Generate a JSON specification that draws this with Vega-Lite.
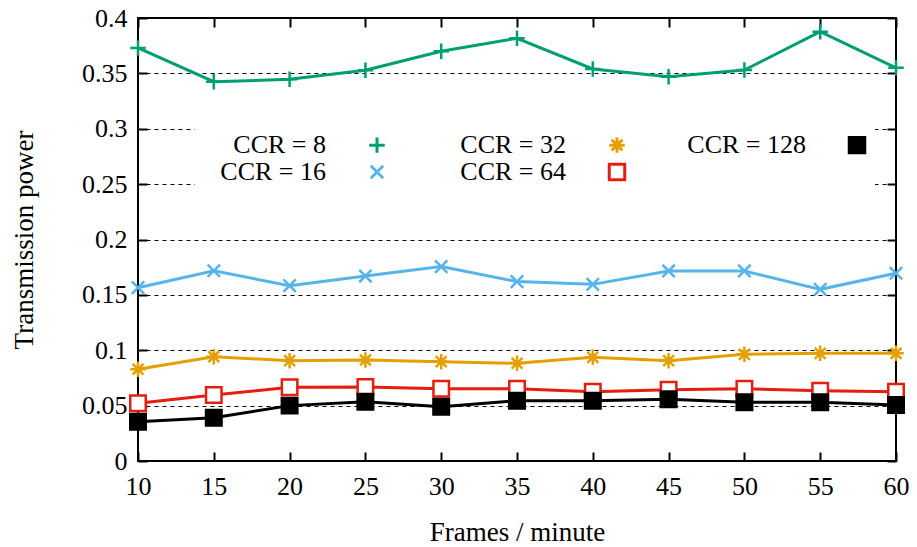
{
  "$schema": "https://vega.github.io/schema/vega-lite/v6.json",
  "autosize": "none",
  "width": 758,
  "height": 443,
  "padding": {"left": 138, "top": 18, "right": 21, "bottom": 86},
  "config": {
    "view": {"stroke": "black", "strokeWidth": 2},
    "font": "Liberation Serif",
    "axis": {
      "labelFont": "Liberation Serif", "labelFontSize": 26, "labelColor": "black",
      "titleFont": "Liberation Serif", "titleFontSize": 27, "titleFontWeight": "normal", "titleColor": "black",
      "domain": false, "tickColor": "black", "tickWidth": 2
    },
    "legend": {"labelFont": "Liberation Serif", "labelFontSize": 26, "labelColor": "black"}
  },
  "data": {"values": [
    {"x":10,"ccr":"CCR = 8","p":0.373},{"x":15,"ccr":"CCR = 8","p":0.3425},{"x":20,"ccr":"CCR = 8","p":0.3446},{"x":25,"ccr":"CCR = 8","p":0.3528},{"x":30,"ccr":"CCR = 8","p":0.370},{"x":35,"ccr":"CCR = 8","p":0.3817},{"x":40,"ccr":"CCR = 8","p":0.354},{"x":45,"ccr":"CCR = 8","p":0.347},{"x":50,"ccr":"CCR = 8","p":0.353},{"x":55,"ccr":"CCR = 8","p":0.3876},{"x":60,"ccr":"CCR = 8","p":0.355},
    {"x":10,"ccr":"CCR = 16","p":0.1565},{"x":15,"ccr":"CCR = 16","p":0.1718},{"x":20,"ccr":"CCR = 16","p":0.1583},{"x":25,"ccr":"CCR = 16","p":0.167},{"x":30,"ccr":"CCR = 16","p":0.1755},{"x":35,"ccr":"CCR = 16","p":0.162},{"x":40,"ccr":"CCR = 16","p":0.1595},{"x":45,"ccr":"CCR = 16","p":0.1716},{"x":50,"ccr":"CCR = 16","p":0.1716},{"x":55,"ccr":"CCR = 16","p":0.155},{"x":60,"ccr":"CCR = 16","p":0.1695},
    {"x":10,"ccr":"CCR = 32","p":0.0828},{"x":15,"ccr":"CCR = 32","p":0.0942},{"x":20,"ccr":"CCR = 32","p":0.0906},{"x":25,"ccr":"CCR = 32","p":0.0912},{"x":30,"ccr":"CCR = 32","p":0.0897},{"x":35,"ccr":"CCR = 32","p":0.0882},{"x":40,"ccr":"CCR = 32","p":0.0936},{"x":45,"ccr":"CCR = 32","p":0.0906},{"x":50,"ccr":"CCR = 32","p":0.0963},{"x":55,"ccr":"CCR = 32","p":0.0972},{"x":60,"ccr":"CCR = 32","p":0.0972},
    {"x":10,"ccr":"CCR = 64","p":0.0521},{"x":15,"ccr":"CCR = 64","p":0.0596},{"x":20,"ccr":"CCR = 64","p":0.0665},{"x":25,"ccr":"CCR = 64","p":0.0668},{"x":30,"ccr":"CCR = 64","p":0.0653},{"x":35,"ccr":"CCR = 64","p":0.0653},{"x":40,"ccr":"CCR = 64","p":0.0626},{"x":45,"ccr":"CCR = 64","p":0.0644},{"x":50,"ccr":"CCR = 64","p":0.0653},{"x":55,"ccr":"CCR = 64","p":0.0635},{"x":60,"ccr":"CCR = 64","p":0.0626},
    {"x":10,"ccr":"CCR = 128","p":0.0355},{"x":15,"ccr":"CCR = 128","p":0.0391},{"x":20,"ccr":"CCR = 128","p":0.050},{"x":25,"ccr":"CCR = 128","p":0.0536},{"x":30,"ccr":"CCR = 128","p":0.049},{"x":35,"ccr":"CCR = 128","p":0.0545},{"x":40,"ccr":"CCR = 128","p":0.0545},{"x":45,"ccr":"CCR = 128","p":0.0557},{"x":50,"ccr":"CCR = 128","p":0.053},{"x":55,"ccr":"CCR = 128","p":0.053},{"x":60,"ccr":"CCR = 128","p":0.0506}
  ]},
  "resolve": {"axis": {"x": "independent", "y": "independent"}},
  "layer": [
    {
      "mark": {"type": "line", "strokeWidth": 3},
      "encoding": {
        "x": {"field": "x", "type": "quantitative", "scale": {"domain": [10, 60], "nice": false},
          "axis": {"orient": "bottom", "title": "Frames / minute", "values": [10,15,20,25,30,35,40,45,50,55,60], "tickSize": -9, "labelPadding": 21, "titlePadding": 20, "grid": false, "labelFlush": false}},
        "y": {"field": "p", "type": "quantitative", "scale": {"domain": [0, 0.4], "nice": false},
          "axis": {"orient": "left", "title": "Transmission power", "values": [0,0.05,0.1,0.15,0.2,0.25,0.3,0.35,0.4], "format": "~g", "tickSize": -9, "labelPadding": 20, "titlePadding": 43, "grid": true, "gridColor": "black", "gridDash": [4, 4], "gridWidth": 1, "gridOpacity": 1, "labelFlush": false}},
        "color": {"field": "ccr", "type": "nominal",
          "scale": {"domain": ["CCR = 8", "CCR = 16", "CCR = 32", "CCR = 64", "CCR = 128"], "range": ["#009e73", "#56b4e9", "#e69f00", "#e51e10", "#000000"]},
          "legend": {"title": null, "orient": "none", "legendX": 57, "legendY": 110, "columns": 3, "columnPadding": 48, "rowPadding": -1,
            "fillColor": "white", "padding": 4, "symbolSize": 256, "symbolStrokeWidth": 3, "symbolOffset": 165, "labelOffset": -64, "labelAlign": "right", "labelLimit": 300,
            "encode": {"symbols": {"update": {
              "shape": {"signal": "datum.value === 'CCR = 8' ? 'M-22,0M-4.5,0L4.5,0M0,-1L0,1' : datum.value === 'CCR = 16' ? 'M-22,0M-4.5,0L4.5,0M-0.8,-0.8L0.8,0.8M-0.8,0.8L0.8,-0.8' : datum.value === 'CCR = 32' ? 'M-22,0M-4.5,0L4.5,0M0,-1L0,1M-0.7,-0.7L0.7,0.7M-0.7,0.7L0.7,-0.7' : datum.value === 'CCR = 64' ? 'M-22,0M-4.5,0L-0.8,0M0.8,0L4.5,0M-0.8,-0.8L0.8,-0.8L0.8,0.8L-0.8,0.8Z' : 'M-22,0M-4.5,0L4.5,0M-1.1,-1.1L1.1,-1.1L1.1,1.1L-1.1,1.1Z'"},
              "fill": {"signal": "datum.value === 'CCR = 64' ? 'white' : datum.value === 'CCR = 128' ? 'black' : 'transparent'"},
              "fillOpacity": {"value": 1},
              "strokeWidth": {"value": 3}
            }}}}
        }
      }
    },
    {
      "transform": [{"calculate": "datum.ccr", "as": "marker"}],
      "mark": {"type": "point", "filled": false, "strokeWidth": 2.5, "opacity": 1},
      "encoding": {
        "x": {"field": "x", "type": "quantitative",
          "axis": {"orient": "top", "title": null, "labels": false, "values": [10,15,20,25,30,35,40,45,50,55,60], "tickSize": -9, "grid": false}},
        "y": {"field": "p", "type": "quantitative",
          "axis": {"orient": "right", "title": null, "labels": false, "values": [0,0.05,0.1,0.15,0.2,0.25,0.3,0.35,0.4], "tickSize": -9, "grid": false}},
        "color": {"field": "ccr", "type": "nominal", "legend": null},
        "shape": {"field": "marker", "type": "nominal", "legend": null,
          "scale": {"domain": ["CCR = 8", "CCR = 16", "CCR = 32", "CCR = 64", "CCR = 128"],
            "range": ["M-1,0L1,0M0,-1L0,1", "M-0.8,-0.8L0.8,0.8M-0.8,0.8L0.8,-0.8", "M-1,0L1,0M0,-1L0,1M-0.7,-0.7L0.7,0.7M-0.7,0.7L0.7,-0.7", "square", "square"]}},
        "fill": {"field": "marker", "type": "nominal", "legend": null,
          "scale": {"domain": ["CCR = 8", "CCR = 16", "CCR = 32", "CCR = 64", "CCR = 128"], "range": ["transparent", "transparent", "transparent", "white", "black"]}},
        "size": {"field": "marker", "type": "nominal", "legend": null,
          "scale": {"domain": ["CCR = 8", "CCR = 16", "CCR = 32", "CCR = 64", "CCR = 128"], "range": [240, 240, 240, 169, 340]}}
      }
    }
  ]
}
